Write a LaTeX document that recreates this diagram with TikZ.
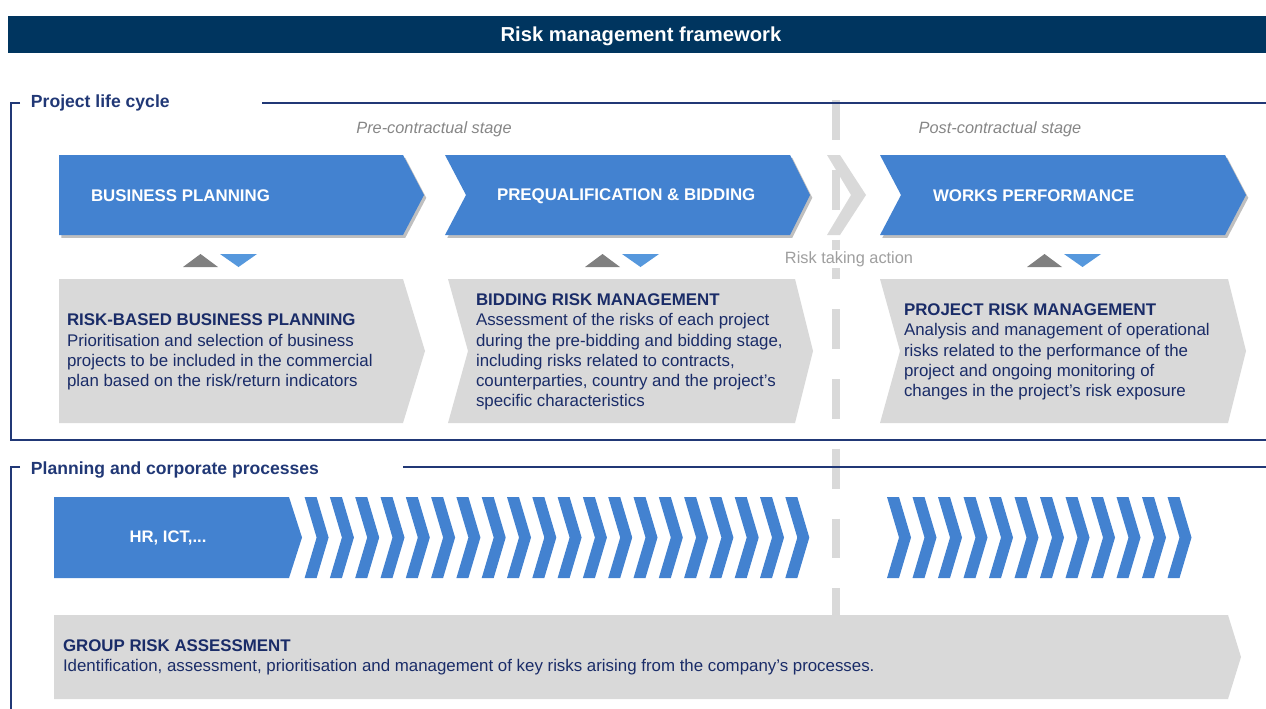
\documentclass[tikz,border=0pt]{standalone}
\usepackage{fontspec}
\setmainfont{Liberation Sans}
\usepackage{xcolor}
\usetikzlibrary{shadows}

\definecolor{headnavy}{RGB}{0,53,95}
\definecolor{framenavy}{RGB}{33,56,118}
\definecolor{stageblue}{RGB}{67,130,208}
\definecolor{boxgray}{RGB}{217,217,217}
\definecolor{textnavy}{RGB}{26,44,104}
\definecolor{trigray}{RGB}{128,128,128}
\definecolor{triblue}{RGB}{86,152,221}

\begin{document}
\begin{tikzpicture}[
  x=0.02cm, y=-0.02cm,
  every node/.style={inner sep=0pt, outer sep=0pt},
  stage/.style={fill=stageblue,
    drop shadow={shadow xshift=1.3pt, shadow yshift=-1.6pt, opacity=0.25, fill=black}},
  process/.style={fill=stageblue},
  descbox/.style={fill=boxgray},
  divider/.style={draw=boxgray, line width=4.5pt, dash pattern=on 22.7pt off 17pt},
  frameline/.style={draw=framenavy, line width=1.2pt, line join=miter},
  framelabel/.style={anchor=west, text=framenavy, font=\fontsize{10}{12}\selectfont\bfseries},
  phaselabel/.style={text=gray!95, font=\fontsize{9.3}{11}\selectfont\itshape},
  stagelabel/.style={anchor=west, text=white, font=\fontsize{9.6}{11}\selectfont\bfseries},
  desctext/.style={anchor=west, align=left, text=textnavy, font=\fontsize{9.6}{11.5}\selectfont},
]
\useasboundingbox (0,0) rectangle (1266,708);

% ========= Header =========
\fill[headnavy] (8,16) rectangle (1266,53);
\node[text=white, font=\fontsize{11.5}{13}\selectfont\bfseries] at (641,36.5) (title) {Risk management framework};

% ========= Contract divider =========
\draw[divider] (836,100) -- (836,708);

% ========= Frames =========
\draw[frameline] (20,103) -- (11,103) -- (11,440) -- (1266,440);
\draw[frameline] (262,103) -- (1266,103);
\node[framelabel] at (31,102.5) (lifecycle) {Project life cycle};
\draw[frameline] (20,467) -- (11,467) -- (11,710);
\draw[frameline] (403,467) -- (1266,467);
\node[framelabel] at (31,469.5) (corporate) {Planning and corporate processes};

\node[phaselabel] at (434,129) (pre) {Pre-contractual stage};
\node[phaselabel] at (1000,129) (post) {Post-contractual stage};

% ========= Row 1: project stages =========
\fill[stage] (59,155) -- (403,155) -- (424,195) -- (403,235) -- (59,235) -- cycle;
\fill[stage] (445,155) -- (790,155) -- (810,195) -- (790,235) -- (445,235) -- (466,195) -- cycle;
\fill[boxgray] (827,155) -- (840,155) -- (866,195) -- (840,235) -- (827,235) -- (851,195) -- cycle;
\fill[stage] (880,155) -- (1225,155) -- (1246,195) -- (1225,235) -- (880,235) -- (901,195) -- cycle;

\node[stagelabel] at (91,196) (bp) {BUSINESS PLANNING};
\node[stagelabel] at (497,196) (pq) {PREQUALIFICATION \& BIDDING};
\node[stagelabel] at (933,196) (wp) {WORKS PERFORMANCE};

% up / down markers
\foreach \x in {183,585,1027} {
  \fill[trigray] (\x,267) -- (\x+17.5,254) -- (\x+35,267) -- cycle;
  \fill[triblue] (\x+37,254) -- (\x+74,254) -- (\x+55.5,267) -- cycle;
}
\node[fill=white, text=gray!75, font=\fontsize{9.3}{11}\selectfont, inner sep=1pt] at (849,259) (action) {Risk taking action};

% ========= Row 2: risk activities =========
\fill[descbox] (59,279) -- (403,279) -- (425,351) -- (403,423) -- (59,423) -- cycle;
\fill[descbox] (448,279) -- (795,279) -- (813,351) -- (795,423) -- (448,423) -- (468,351) -- cycle;
\fill[descbox] (880,279) -- (1228,279) -- (1246,351) -- (1228,423) -- (880,423) -- (900,351) -- cycle;

\node[desctext] at (67,352) (rbp) {\textbf{RISK-BASED BUSINESS PLANNING}\\
  Prioritisation and selection of business\\
  projects to be included in the commercial\\
  plan based on the risk/return indicators};
\node[desctext] at (476,352) (brm) {\textbf{BIDDING RISK MANAGEMENT}\\
  Assessment of the risks of each project\\
  during the pre-bidding and bidding stage,\\
  including risks related to contracts,\\
  counterparties, country and the project's\\
  specific characteristics};
\node[desctext] at (904,352) (prm) {\textbf{PROJECT RISK MANAGEMENT}\\
  Analysis and management of operational\\
  risks related to the performance of the\\
  project and ongoing monitoring of\\
  changes in the project's risk exposure};

% ========= Row 3: corporate processes =========
\fill[process] (54,497) -- (289,497) -- (302,537.5) -- (289,578) -- (54,578) -- cycle;
\node[text=white, font=\fontsize{9.5}{11}\selectfont\bfseries] at (168,538) (hr) {HR, ICT,...};
\foreach \i in {0,...,19} {
  \pgfmathsetmacro{\cx}{304.6+25.3*\i}
  \fill[process] (\cx,497) -- (\cx+12,497) -- (\cx+24,537.5) -- (\cx+12,578) -- (\cx,578) -- (\cx+12,537.5) -- cycle;
}
\foreach \i in {0,...,11} {
  \pgfmathsetmacro{\cx}{887+25.5*\i}
  \fill[process] (\cx,497) -- (\cx+12,497) -- (\cx+24,537.5) -- (\cx+12,578) -- (\cx,578) -- (\cx+12,537.5) -- cycle;
}

% ========= Row 4: group assessment =========
\fill[descbox] (54,615) -- (1228,615) -- (1241,657) -- (1228,699) -- (54,699) -- cycle;
\node[desctext] at (63,657) (gra) {\textbf{GROUP RISK ASSESSMENT}\\
  Identification, assessment, prioritisation and management of key risks arising from the company's processes.};

\end{tikzpicture}
\end{document}
